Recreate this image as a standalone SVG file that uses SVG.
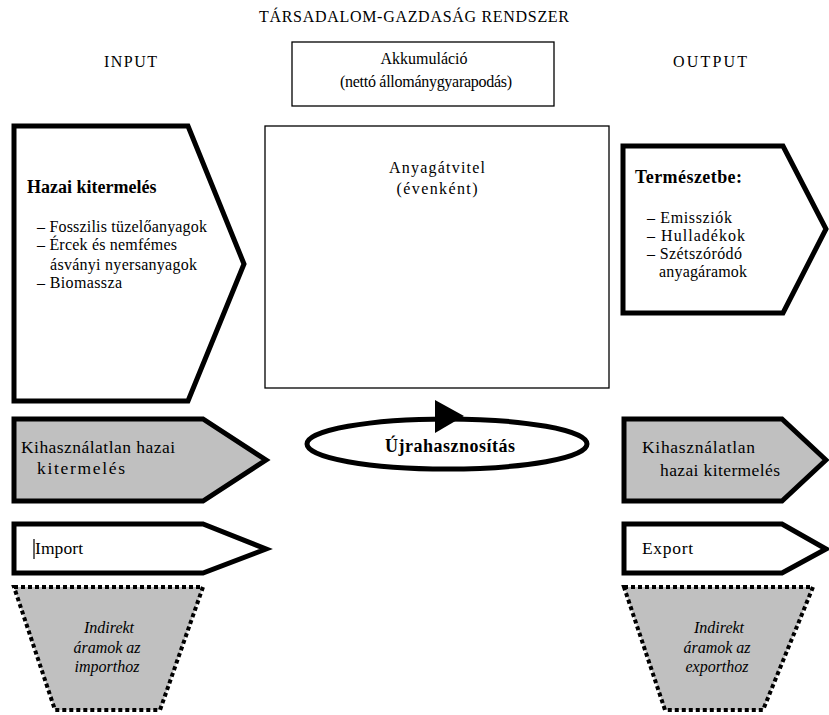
<svg xmlns="http://www.w3.org/2000/svg" width="829" height="715" viewBox="0 0 829 715" font-family="'Liberation Serif','Times New Roman',serif">
<style>
text{font-family:"Liberation Serif","Times New Roman",serif;fill:#000}
.t{font-size:16px}
.m{font-size:17.5px}
.s{font-size:16px}
.b{font-weight:bold;font-size:18px}
.thin{fill:#fff;stroke:#000;stroke-width:1.3}
.thick{fill:#fff;stroke:#000;stroke-width:5;stroke-linejoin:miter}
.gray{fill:#c0c0c0;stroke:#000;stroke-width:5}
.dot{fill:#c0c0c0;stroke:#000;stroke-width:4;stroke-dasharray:4 3}
.it{font-style:italic;font-size:16px}
</style>
<rect width="829" height="715" fill="#fff"/>
<text class="t" x="414" y="22" text-anchor="middle" textLength="310" lengthAdjust="spacing">TÁRSADALOM-GAZDASÁG RENDSZER</text>
<text class="t" x="104" y="67" textLength="53" lengthAdjust="spacing">INPUT</text>
<text class="t" x="673" y="67" textLength="74" lengthAdjust="spacing">OUTPUT</text>
<g id="akkumulacio">
<rect class="thin" x="292" y="42" width="262" height="64"/>
<text class="t" x="424" y="64" text-anchor="middle">Akkumuláció</text>
<text class="t" x="426" y="87" text-anchor="middle" textLength="172" lengthAdjust="spacing">(nettó állománygyarapodás)</text>
</g>
<g id="anyagatvitel">
<rect class="thin" x="265" y="126" width="344" height="262"/>
<text class="t" x="437" y="173" text-anchor="middle" textLength="96" lengthAdjust="spacing">Anyagátvitel</text>
<text class="t" x="437" y="194" text-anchor="middle" textLength="81" lengthAdjust="spacing">(évenként)</text>
</g>
<g id="hazai">
<polygon class="thick" points="14,126 188,126 244,264 188,401 14,401"/>
<text class="b" x="27" y="193">Hazai kitermelés</text>
<text class="s" x="37" y="232" textLength="170" lengthAdjust="spacing">– Fosszilis tüzelőanyagok</text>
<text class="s" x="37" y="250" textLength="140" lengthAdjust="spacing">– Ércek és nemfémes</text>
<text class="s" x="50" y="270" textLength="147" lengthAdjust="spacing">ásványi nyersanyagok</text>
<text class="s" x="37" y="288" textLength="85" lengthAdjust="spacing">– Biomassza</text>
</g>
<g id="termeszetbe">
<polygon class="thick" points="623,146 783,146 826,229 783,313 623,313"/>
<text class="b" x="635" y="183" textLength="107" lengthAdjust="spacing">Természetbe:</text>
<text class="s" x="647" y="223" textLength="85" lengthAdjust="spacing">– Emissziók</text>
<text class="s" x="647" y="241" textLength="98" lengthAdjust="spacing">– Hulladékok</text>
<text class="s" x="647" y="259" textLength="95" lengthAdjust="spacing">– Szétszóródó</text>
<text class="s" x="659" y="277" textLength="88" lengthAdjust="spacing">anyagáramok</text>
</g>
<g id="kihasznalatlan-in">
<polygon class="gray" points="14,419 203,419 266,460 203,501 14,501"/>
<text class="m" x="21" y="453" textLength="154" lengthAdjust="spacing">Kihasználatlan hazai</text>
<text class="m" x="37" y="474" textLength="88" lengthAdjust="spacing">kitermelés</text>
</g>
<g id="kihasznalatlan-out">
<polygon class="gray" points="624,419 782,419 826,460 782,501 624,501"/>
<text class="m" x="642" y="453" textLength="113" lengthAdjust="spacing">Kihasználatlan</text>
<text class="m" x="660" y="476" textLength="120" lengthAdjust="spacing">hazai kitermelés</text>
</g>
<g id="import">
<polygon class="thick" points="14,524 203,524 266,549 203,573 14,573"/>
<line x1="34" y1="539" x2="34" y2="559" stroke="#000" stroke-width="1.2"/>
<text class="m" x="35" y="554" textLength="48" lengthAdjust="spacing">Import</text>
</g>
<g id="export">
<polygon class="thick" points="624,524 782,524 826,549 782,573 624,573"/>
<text class="m" x="642" y="554" textLength="51" lengthAdjust="spacing">Export</text>
</g>
<g id="indirekt-import">
<polygon class="dot" points="14,587 203,587 160,710 55,710"/>
<text class="it" x="109" y="633" text-anchor="middle">Indirekt</text>
<text class="it" x="107" y="653" text-anchor="middle">áramok az</text>
<text class="it" x="107" y="672" text-anchor="middle">importhoz</text>
</g>
<g id="indirekt-export">
<polygon class="dot" points="624,587 813,587 763,710 665,710"/>
<text class="it" x="719" y="633" text-anchor="middle">Indirekt</text>
<text class="it" x="717" y="653" text-anchor="middle">áramok az</text>
<text class="it" x="717" y="672" text-anchor="middle">exporthoz</text>
</g>
<g id="ujrahasznositas">
<ellipse cx="447" cy="444" rx="140" ry="25" fill="#fff" stroke="#000" stroke-width="5"/>
<polygon points="435,400 464,416 435,433" fill="#000"/>
<text class="b" x="450" y="452" text-anchor="middle" textLength="130" lengthAdjust="spacing">Újrahasznosítás</text>
</g>
<g id="connectors"></g>
</svg>
